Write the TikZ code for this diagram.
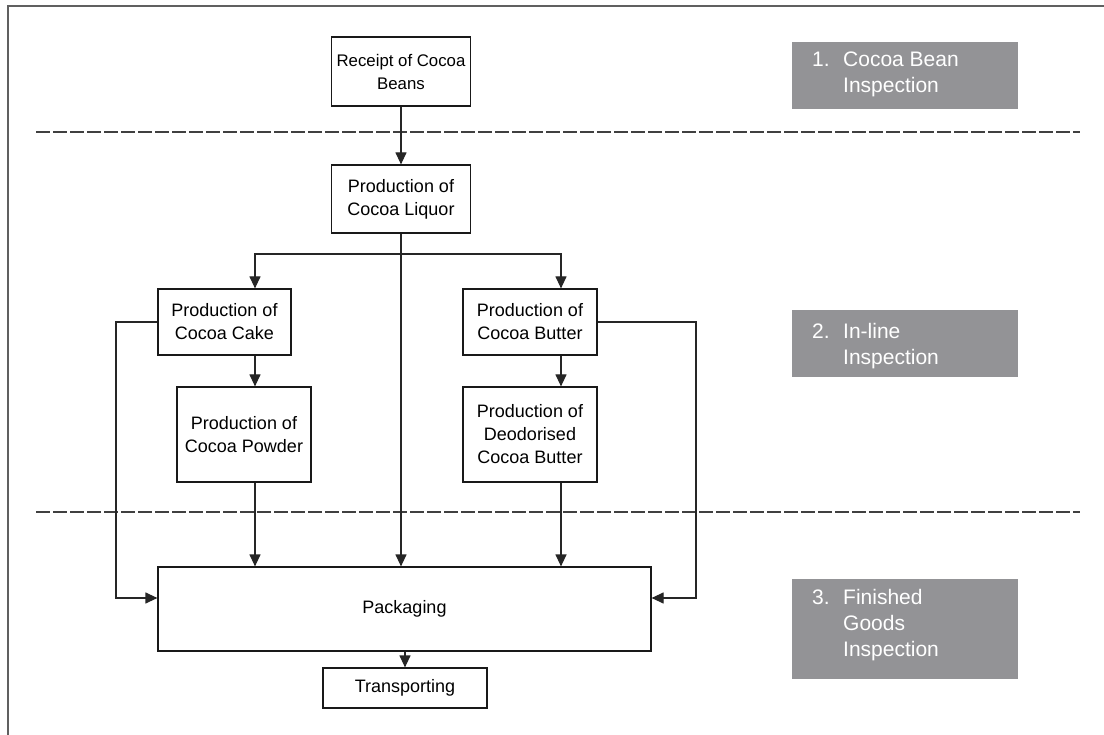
\documentclass[tikz,border=0pt]{standalone}
\usepackage{fontspec}
\setmainfont{Liberation Sans}
\usetikzlibrary{arrows.meta}
\definecolor{inspgray}{HTML}{939396}
\definecolor{framegray}{HTML}{606060}
\begin{document}
\begin{tikzpicture}[x=1pt,y=-1pt,
  box/.style={draw=black!90, line width=1.2pt, inner sep=0pt, align=center,
    font=\fontsize{18}{23}\selectfont},
  arr/.style={line width=1.2pt, draw=black!85, -{Triangle[length=12pt,width=11pt]}},
  grayrect/.style={fill=inspgray, draw=none, inner sep=0pt},
  graytext/.style={text=white, inner sep=0pt, align=left, anchor=north west,
    font=\fontsize{21}{26}\selectfont},
  sep/.style={line width=1.2pt, draw=black!75, dash pattern=on 14pt off 3pt}]
\useasboundingbox (0,0) rectangle (1104,735);
\fill[white] (0,0) rectangle (1104,735);
% frame
\draw[line width=2pt, framegray] (8,735) -- (8,6) -- (1104,6);
% separators
\draw[sep] (36,132) -- (1080,132);
\draw[sep] (36,512) -- (1080,512);
% process boxes
\node[box, minimum width=139pt, minimum height=69pt, font=\fontsize{16.8}{23}\selectfont] (rec) at (401,71.5) {Receipt of Cocoa\\Beans};
\node[box, minimum width=139pt, minimum height=68pt] (liq) at (401,199) {Production of\\Cocoa Liquor};
\node[box, minimum width=133pt, minimum height=66pt] (cake) at (224.5,322) {Production of\\Cocoa Cake};
\node[box, minimum width=134pt, minimum height=66pt] (but) at (530,322) {Production of\\Cocoa Butter};
\node[box, minimum width=134pt, minimum height=95pt] (pow) at (244,434.5) {Production of\\Cocoa Powder};
\node[box, minimum width=134pt, minimum height=95pt] (deo) at (530,434.5) {Production of\\Deodorised\\Cocoa Butter};
\node[box, minimum width=493pt, minimum height=84pt] (pack) at (404.5,609) {Packaging};
\node[box, minimum width=164pt, minimum height=40pt] (trans) at (405,688) {Transporting};
% inspection labels
\node[grayrect, minimum width=226pt, minimum height=67pt] (g1) at (905,75.5) {};
\node[graytext] (g1t) at (812,52) {\makebox[31pt][l]{1.}Cocoa Bean\\\hspace*{31pt}Inspection};
\node[grayrect, minimum width=226pt, minimum height=67pt] (g2) at (905,343.5) {};
\node[graytext] (g2t) at (812,323) {\makebox[31pt][l]{2.}In-line\\\hspace*{31pt}Inspection};
\node[grayrect, minimum width=226pt, minimum height=100pt] (g3) at (905,629) {};
\node[graytext] (g3t) at (812,589) {\makebox[31pt][l]{3.}Finished\\\hspace*{31pt}Goods\\\hspace*{31pt}Inspection};
% connector helper coordinates
\coordinate (br) at (401,254);
\coordinate (cx) at (255,0);
\coordinate (bx) at (561,0);
\coordinate (lx) at (116,598);
\coordinate (rx) at (696,598);
% connectors
\draw[arr] (rec.south) -- (liq.north);
\draw[arr] (liq.south) -- (liq.south |- pack.north);
\draw[arr] (br) -| (cx |- cake.north);
\draw[arr] (br) -| (bx |- but.north);
\draw[arr] (cx |- cake.south) -- (cx |- pow.north);
\draw[arr] (bx |- but.south) -- (bx |- deo.north);
\draw[arr] (cx |- pow.south) -- (cx |- pack.north);
\draw[arr] (bx |- deo.south) -- (bx |- pack.north);
\draw[arr] (cake.west) -| (lx) -- (pack.west |- lx);
\draw[arr] (but.east) -| (rx) -- (pack.east |- rx);
\draw[arr] (pack.south -| trans.north) -- (trans.north);
\end{tikzpicture}
\end{document}
